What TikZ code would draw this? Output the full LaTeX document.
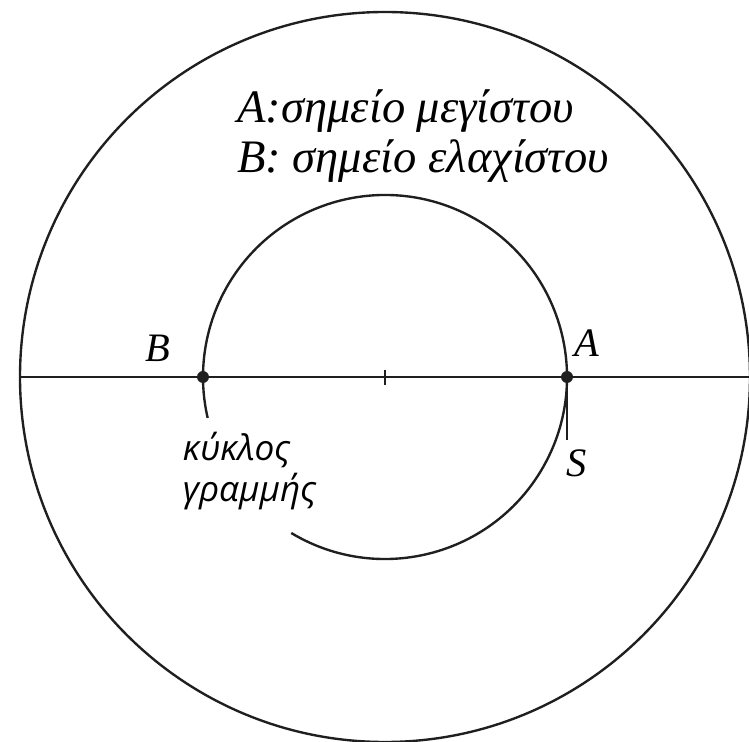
\documentclass[tikz,border=0pt]{standalone}
\usepackage{fontspec}
\setmainfont{Liberation Serif}
\newfontfamily\notefont{Open Sans}
\colorlet{inkcolor}{black!88}

\begin{document}
\begin{tikzpicture}[
    curve/.style={inkcolor, line width=1.35pt},
    greeklabel/.style={font=\fontsize{23}{28.5}\selectfont\itshape, inner sep=0pt},
    legendlabel/.style={font=\fontsize{26.5}{28.5}\selectfont\itshape, inner sep=0pt},
    notelabel/.style={font=\notefont\fontsize{20}{23.5}\selectfont\itshape, inner sep=0pt},
  ]

  % Frame: 749 by 742 px at 50 px per cm, centre of the circles at the origin.
  \useasboundingbox (-7.7,-7.3) rectangle (7.28,7.54);

  \coordinate (O) at (0,0);
  \coordinate (A) at (3.64,0);
  \coordinate (B) at (-3.64,0);
  \coordinate (S) at (3.64,-1.27);

  % Outer circle and the diameter through it.
  \draw[curve] (O) circle (7.3);
  \draw[curve] (-7.3,0) -- (7.3,0);
  \draw[curve, line width=1pt] (0,-0.16) -- (0,0.14);

  % Inner circle, open in the lower left where its label sits.
  \draw[curve] (239:3.64) arc (239:553:3.64);
  \draw[curve] (A) -- (S);

  \fill[inkcolor] (A) circle (0.12);
  \fill[inkcolor] (B) circle (0.12);

  \node[greeklabel] (labA) at (4.04,0.68) {A};
  \node[greeklabel] (labB) at (-4.54,0.58) {B};
  \node[greeklabel] (labS) at (3.84,-1.72) {S};

  \node[legendlabel, anchor=west, align=left] (legend) at (-2.96,4.82)
    {A:σημείο μεγίστου\\B: σημείο ελαχίστου};

  \node[notelabel, anchor=west, align=left] (note) at (-4.05,-1.88)
    {κύκλος\\γραμμής};

\end{tikzpicture}
\end{document}
